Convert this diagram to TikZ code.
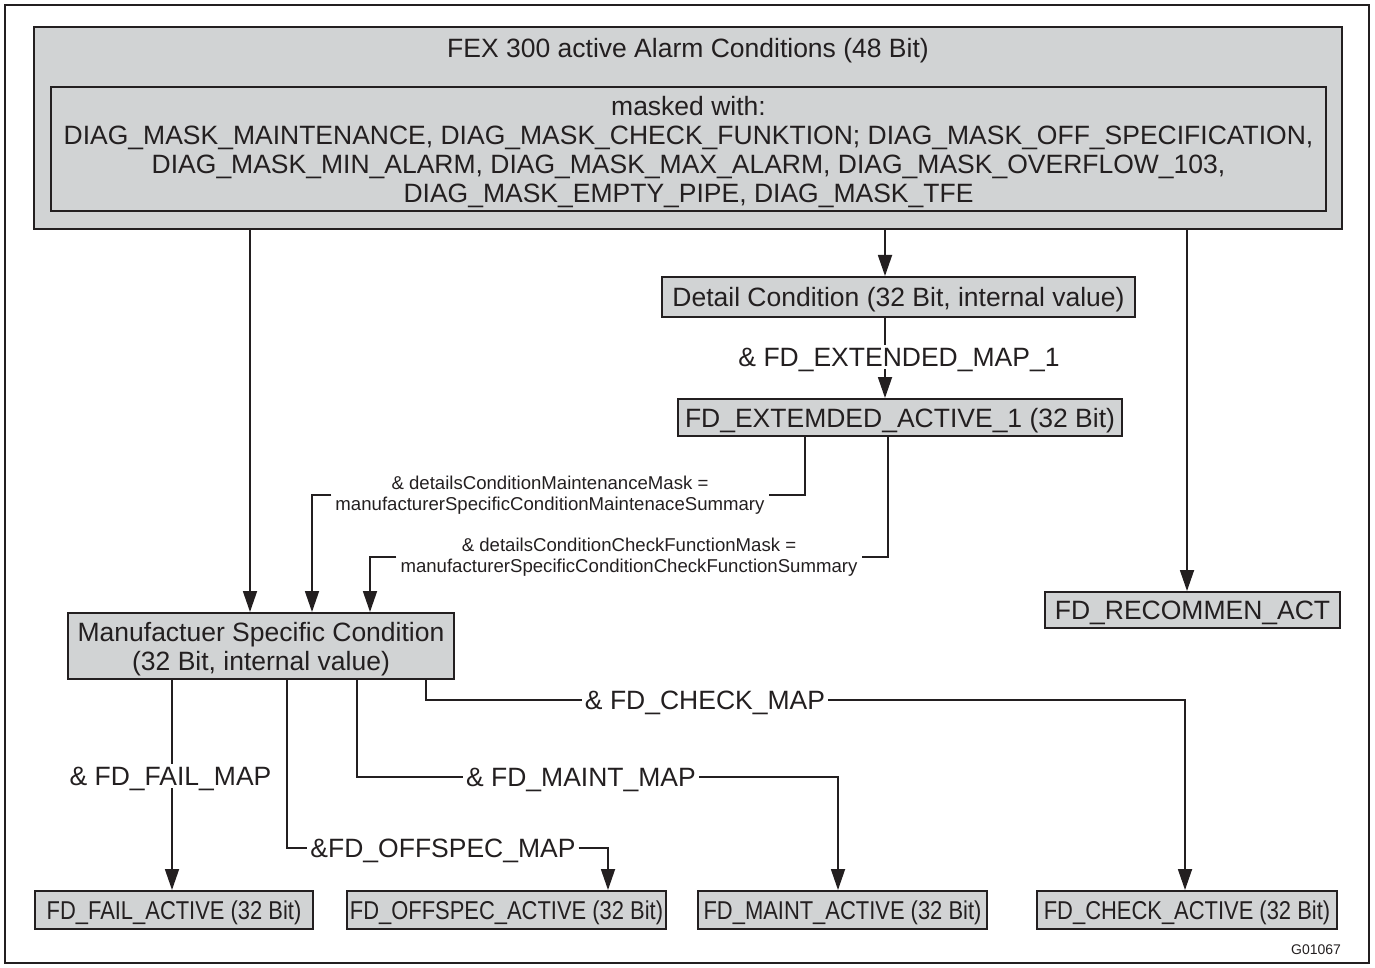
\documentclass[tikz,border=0pt]{standalone}
\usepackage{fontspec}
\setmainfont{Liberation Sans}
\newfontfamily\narrowfont{Liberation Sans}[FakeStretch=0.85]
\usetikzlibrary{arrows.meta}
\definecolor{boxgray}{RGB}{209,211,212}
\definecolor{ink}{RGB}{35,31,32}

\begin{document}
\begin{tikzpicture}[x=1pt,y=-1pt,
  every node/.style={text=ink},
  box/.style={draw=ink, line width=2pt, fill=boxgray, inner sep=0pt, align=center, text depth=0pt},
  main/.style={font=\fontsize{26.5}{29}\selectfont},
  small/.style={font=\fontsize{18.6}{21}\selectfont, align=center, inner sep=4pt},
  narrow/.style={font=\narrowfont\fontsize{25.8}{28}\selectfont},
  conn/.style={draw=ink, line width=1.8pt},
  arr/.style={conn, -{Triangle[length=21pt,width=14pt]}},
  lbl/.style={main, inner sep=3pt, text depth=0pt}
]
\useasboundingbox (0,0) rectangle (1375,968);
% outer frame
\draw[ink, line width=2.5pt] (5,5) rectangle (1369,963);

% top block with alarm conditions and mask list
\node[box, minimum width=1308pt, minimum height=202pt] (top) at (688,128) {};
\node[main, text depth=0pt] (title) at (688,48) {FEX 300 active Alarm Conditions (48 Bit)};
\node[box, main, minimum width=1275pt, minimum height=124pt] (mask) at (688.5,149)
  {masked with:\\
   DIAG\_MASK\_MAINTENANCE, DIAG\_MASK\_CHECK\_FUNKTION; DIAG\_MASK\_OFF\_SPECIFICATION,\\
   DIAG\_MASK\_MIN\_ALARM, DIAG\_MASK\_MAX\_ALARM, DIAG\_MASK\_OVERFLOW\_103,\\
   DIAG\_MASK\_EMPTY\_PIPE, DIAG\_MASK\_TFE};

% intermediate values
\node[box, main, minimum width=473pt, minimum height=40pt] (detail) at (898.5,297)
  {Detail Condition (32 Bit, internal value)};
\node[box, main, minimum width=444pt, minimum height=37pt] (ext) at (900,417.5)
  {FD\_EXTEMDED\_ACTIVE\_1 (32 Bit)};
\node[box, main, minimum width=386pt, minimum height=66pt] (msc) at (261,646)
  {Manufactuer Specific Condition\\(32 Bit, internal value)};
\node[box, main, minimum width=295pt, minimum height=36pt] (rec) at (1192.5,610)
  {FD\_RECOMMEN\_ACT};

% result registers
\node[box, narrow, minimum width=278pt, minimum height=38pt] (fail) at (174,910)
  {FD\_FAIL\_ACTIVE (32 Bit)};
\node[box, narrow, minimum width=319pt, minimum height=38pt] (offspec) at (506.5,910)
  {FD\_OFFSPEC\_ACTIVE (32 Bit)};
\node[box, narrow, minimum width=289pt, minimum height=38pt] (maint) at (842.5,910)
  {FD\_MAINT\_ACTIVE (32 Bit)};
\node[box, narrow, minimum width=300pt, minimum height=38pt] (checkb) at (1187,910)
  {FD\_CHECK\_ACTIVE (32 Bit)};

% connector labels
\node[lbl] (extmap) at (899,357) {\& FD\_EXTENDED\_MAP\_1};
\node[small] (mlbl) at (550,495)
  {\& detailsConditionMaintenanceMask =\\manufacturerSpecificConditionMaintenaceSummary};
\node[small] (clbl) at (629,557)
  {\& detailsConditionCheckFunctionMask =\\manufacturerSpecificConditionCheckFunctionSummary};
\node[lbl] (faillbl) at (170.5,776) {\& FD\_FAIL\_MAP};
\node[lbl] (offlbl) at (443,848) {\&FD\_OFFSPEC\_MAP};
\node[lbl] (maintlbl) at (581,777) {\& FD\_MAINT\_MAP};
\node[lbl] (checklbl) at (705,700) {\& FD\_CHECK\_MAP};

\node[font=\fontsize{14}{16}\selectfont] (gid) at (1316,950) {G01067};

% connectors from the alarm block
\draw[arr] (250,0 |- top.south) -- (250,0 |- msc.north);
\draw[arr] (885,0 |- top.south) -- (885,0 |- detail.north);
\draw[arr] (1187,0 |- top.south) -- (1187,0 |- rec.north);

% detail condition to extended active
\draw[conn] (885,0 |- detail.south) -- (885,0 |- extmap.north);
\draw[arr] (885,0 |- extmap.south) -- (885,0 |- ext.north);

% extended active to manufacturer specific condition
\draw[conn] (805,0 |- ext.south) |- (mlbl.east);
\draw[arr] (mlbl.west) -| (312,0 |- msc.north);
\draw[conn] (888,0 |- ext.south) |- (clbl.east);
\draw[arr] (clbl.west) -| (370,0 |- msc.north);

% manufacturer specific condition to the result registers
\draw[conn] (172,0 |- msc.south) -- (172,0 |- faillbl.north);
\draw[arr] (172,0 |- faillbl.south) -- (172,0 |- fail.north);
\draw[conn] (287,0 |- msc.south) |- (offlbl.west);
\draw[arr] (offlbl.east) -| (608,0 |- offspec.north);
\draw[conn] (357,0 |- msc.south) |- (maintlbl.west);
\draw[arr] (maintlbl.east) -| (838,0 |- maint.north);
\draw[conn] (426,0 |- msc.south) |- (checklbl.west);
\draw[arr] (checklbl.east) -| (1185,0 |- checkb.north);
\end{tikzpicture}
\end{document}
